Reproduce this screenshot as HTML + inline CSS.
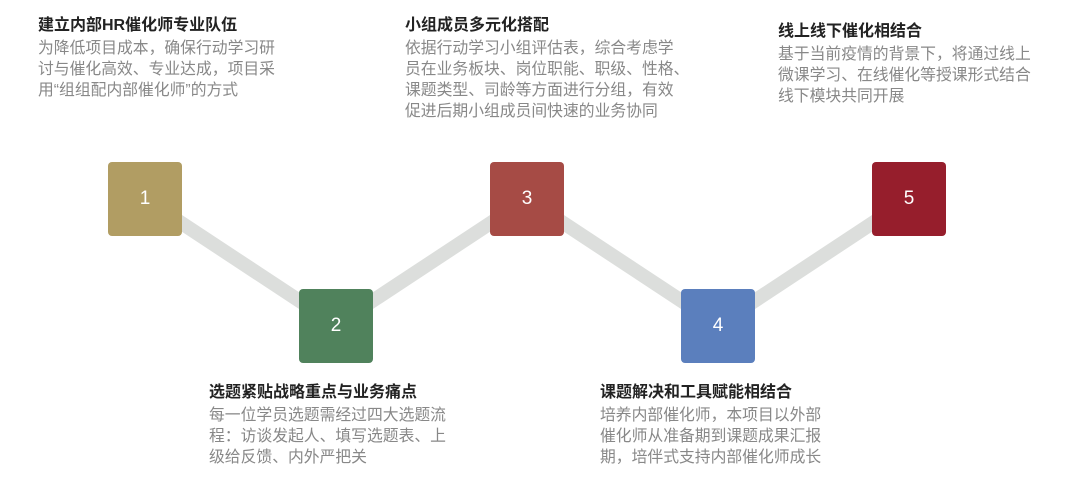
<!DOCTYPE html>
<html><head><meta charset="utf-8"><style>
body{margin:0;width:1079px;height:501px;background:#fff;position:relative;overflow:hidden;font-family:"Liberation Sans","Noto Sans CJK SC",sans-serif}
.b{position:absolute;width:74px;height:74px;border-radius:4px;color:#fff;font-size:19px;display:flex;align-items:center;justify-content:center}
.t{position:absolute;font-size:15.8px;line-height:21px;color:#888;white-space:nowrap}
.t b{display:block;color:#222;font-weight:bold;margin-bottom:2px;font-size:16px}
</style></head><body>
<svg width="1079" height="501" style="position:absolute;left:0;top:0">
<polyline points="145,199 336,325 527,199 718,325 909,199" fill="none" stroke="#dcdedc" stroke-width="14"/>
</svg>
<div class="b" style="left:108px;top:162px;background:#b19d63">1</div>
<div class="b" style="left:299px;top:289px;background:#50825c">2</div>
<div class="b" style="left:490px;top:162px;background:#a64b45">3</div>
<div class="b" style="left:681px;top:289px;background:#5b7fbd">4</div>
<div class="b" style="left:872px;top:162px;background:#961e2c">5</div>
<div class="t" style="left:38px;top:15px"><b>建立内部HR催化师专业队伍</b>为降低项目成本，确保行动学习研<br>讨与催化高效、专业达成，项目采<br>用“组组配内部催化师”的方式</div>
<div class="t" style="left:405px;top:15px"><b>小组成员多元化搭配</b>依据行动学习小组评估表，综合考虑学<br>员在业务板块、岗位职能、职级、性格、<br>课题类型、司龄等方面进行分组，有效<br>促进后期小组成员间快速的业务协同</div>
<div class="t" style="left:778px;top:21px"><b>线上线下催化相结合</b>基于当前疫情的背景下，将通过线上<br>微课学习、在线催化等授课形式结合<br>线下模块共同开展</div>
<div class="t" style="left:209px;top:382px"><b>选题紧贴战略重点与业务痛点</b>每一位学员选题需经过四大选题流<br>程：访谈发起人、填写选题表、上<br>级给反馈、内外严把关</div>
<div class="t" style="left:600px;top:382px"><b>课题解决和工具赋能相结合</b>培养内部催化师，本项目以外部<br>催化师从准备期到课题成果汇报<br>期，培伴式支持内部催化师成长</div>
</body></html>
